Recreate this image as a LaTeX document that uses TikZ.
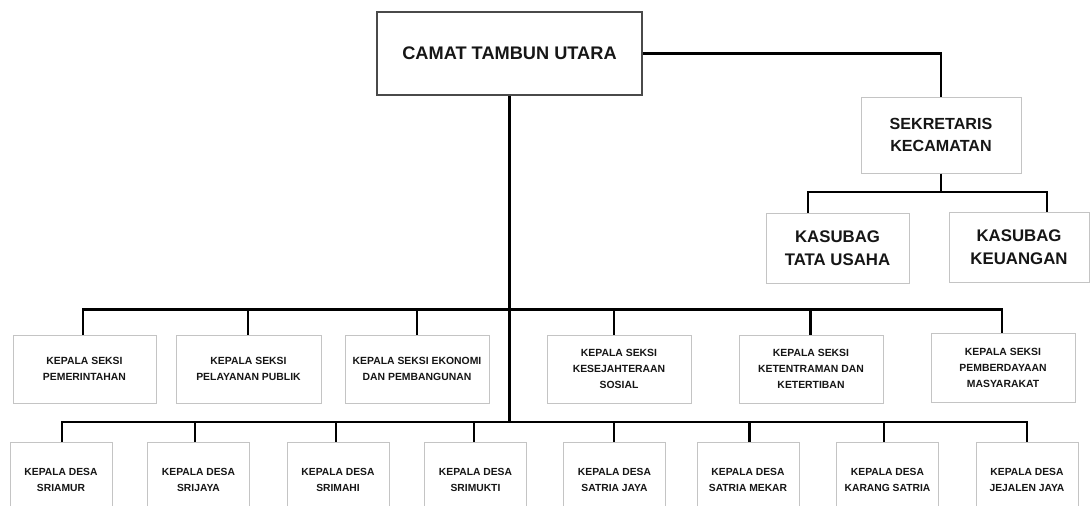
\documentclass[tikz,border=0pt]{standalone}
\usepackage{fontspec}
\setmainfont{Liberation Sans}
\definecolor{boxgray}{HTML}{C4C4C4}
\definecolor{topgray}{HTML}{4A4A4A}
\definecolor{txt}{HTML}{161616}
\begin{document}
\begin{tikzpicture}[x=1pt,y=-1pt,
  box/.style={draw=boxgray, line width=1pt, fill=white, align=center, inner sep=0pt, text=txt, font=\bfseries},
  seksi/.style={box, minimum width=144pt, minimum height=68pt, font=\bfseries\fontsize{10.4}{15.8}\selectfont},
  desa/.style={box, minimum width=102pt, minimum height=75pt, font=\bfseries\fontsize{10.3}{15.5}\selectfont},
  kasub/.style={box, minimum width=142pt, minimum height=70pt, font=\bfseries\fontsize{16.8}{23}\selectfont},
  conn/.style={draw=black, line width=2.2pt, line join=miter}]
\useasboundingbox (0,0) rectangle (1090,506);
\clip (0,0) rectangle (1090,506);
\fill[white] (0,0) rectangle (1090,506);

% top level
\node[box, draw=topgray, line width=1.5pt, minimum width=265pt, minimum height=83pt,
  font=\bfseries\fontsize{18.2}{21}\selectfont] (camat) at (509.5,53.5) {CAMAT TAMBUN UTARA};
\node[box, minimum width=160pt, minimum height=76pt, font=\bfseries\fontsize{16.1}{22}\selectfont]
  (sek) at (941,135) {SEKRETARIS\\KECAMATAN};
\node[kasub, minimum width=143pt] (tu) at (837.5,248) {KASUBAG\\TATA USAHA};
\node[kasub, minimum width=140pt] (keu) at (1019,247) {KASUBAG\\KEUANGAN};

% seksi row
\node[seksi, minimum width=143pt] (s1) at (84.5,369) {KEPALA SEKSI\\PEMERINTAHAN};
\node[seksi, minimum width=145pt] (s2) at (248.5,369) {KEPALA SEKSI\\PELAYANAN PUBLIK};
\node[seksi] (s3) at (417,369) {KEPALA SEKSI EKONOMI\\DAN PEMBANGUNAN};
\node[seksi] (s4) at (619,369) {KEPALA SEKSI\\KESEJAHTERAAN\\SOSIAL};
\node[seksi] (s5) at (811,369) {KEPALA SEKSI\\KETENTRAMAN DAN\\KETERTIBAN};
\node[seksi, minimum height=69pt] (s6) at (1003,368) {KEPALA SEKSI\\PEMBERDAYAAN\\MASYARAKAT};

% desa row
\node[desa] (d1) at (61,480) {KEPALA DESA\\SRIAMUR};
\node[desa] (d2) at (198.5,480) {KEPALA DESA\\SRIJAYA};
\node[desa] (d3) at (338,480) {KEPALA DESA\\SRIMAHI};
\node[desa] (d4) at (475.5,480) {KEPALA DESA\\SRIMUKTI};
\node[desa] (d5) at (614.5,480) {KEPALA DESA\\SATRIA JAYA};
\node[desa] (d6) at (748,480) {KEPALA DESA\\SATRIA MEKAR};
\node[desa] (d7) at (887.5,480) {KEPALA DESA\\KARANG SATRIA};
\node[desa] (d8) at (1027,480) {KEPALA DESA\\JEJALEN JAYA};

% connectors: camat -> sekretaris
\draw[conn] (camat.east) -| (sek.north);
% sekretaris -> kasubag
\coordinate (sbL) at (808,192);
\coordinate (sbR) at (1047,192);
\draw[conn] (sek.south) -- (sek.south |- sbL);
\draw[conn] (808,192 |- tu.north) -- (sbL) -- (sbR) -- (1047,192 |- keu.north);

% main trunk
\coordinate (dbus) at (509.5,421.6);
\draw[conn] (camat.south) -- (dbus);

% seksi bus
\coordinate (kL) at (83,309.5);
\coordinate (kR) at (1002,309.5);
\draw[conn] (83,309.5 |- s1.north) -- (kL) -- (kR) -- (1002,309.5 |- s6.north);
\foreach \n/\x in {s2/248, s3/417, s4/614, s5/810.5}
  \draw[conn] (\x,309.5) -- (\x,309.5 |- \n.north);

% desa bus
\coordinate (dL) at (62,421.6);
\coordinate (dR) at (1027,421.6);
\draw[conn] (62,421.6 |- d1.north) -- (dL) -- (dR) -- (1027,421.6 |- d8.north);
\foreach \n/\x in {d2/195, d3/336, d4/474, d5/614, d6/749.5, d7/884}
  \draw[conn] (\x,421.6) -- (\x,421.6 |- \n.north);
\end{tikzpicture}
\end{document}
